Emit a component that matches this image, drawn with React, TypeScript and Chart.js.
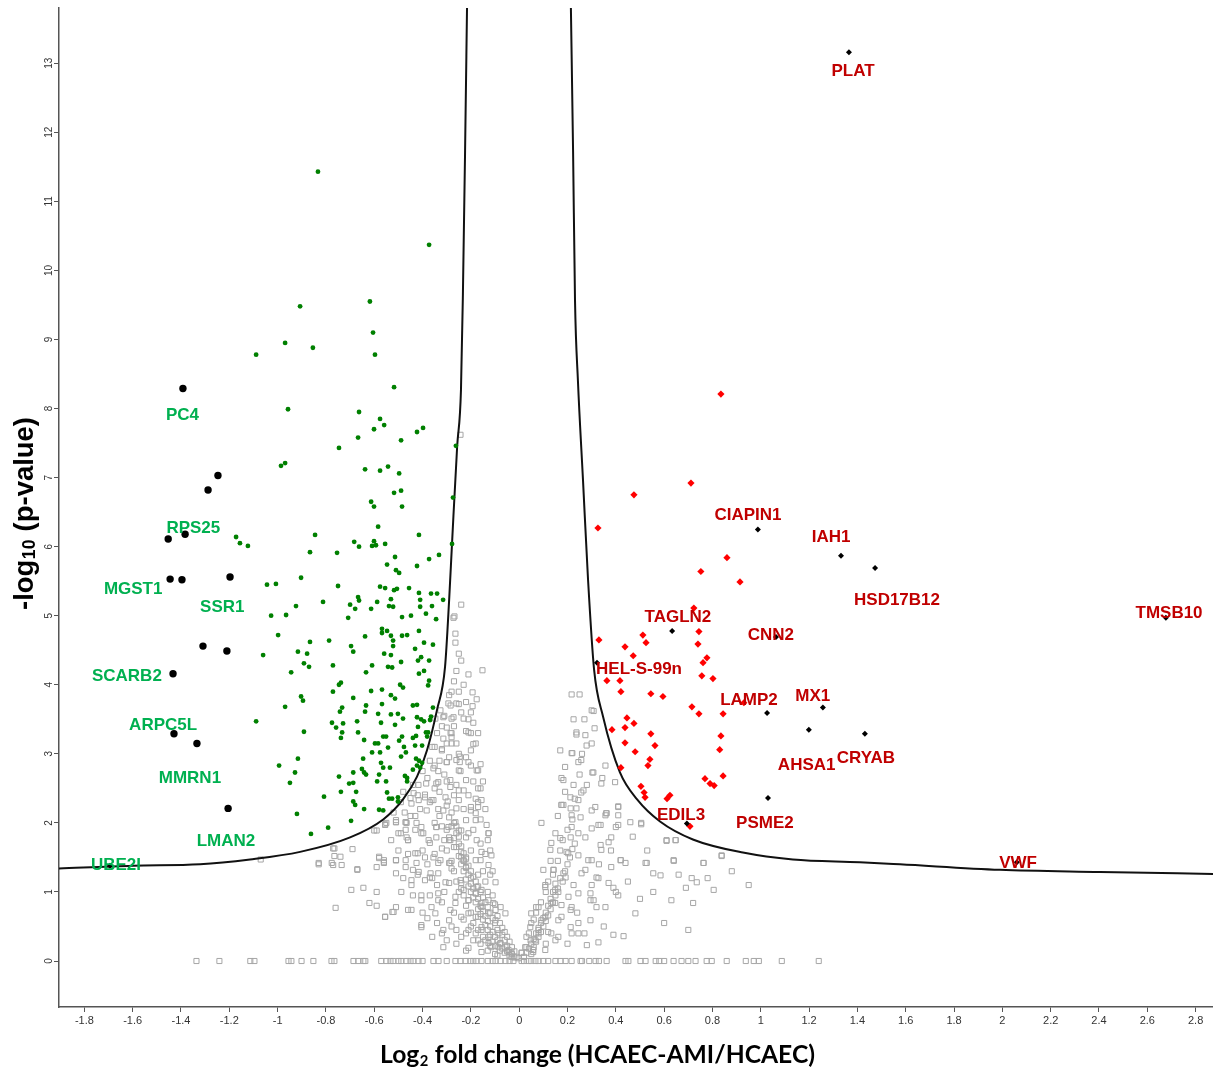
import React, { useEffect, useRef } from "react";
import { Chart, registerables } from "chart.js";
Chart.register(...registerables);

type P = [number, number];

const xTickLabels = ["-1.8","-1.6","-1.4","-1.2","-1","-0.8","-0.6","-0.4","-0.2","0","0.2","0.4","0.6","0.8","1","1.2","1.4","1.6","1.8","2","2.2","2.4","2.6","2.8"];
const yTickLabels = ["0","1","2","3","4","5","6","7","8","9","10","11","12","13"];

const greyZeroRowX = [-1.336,-1.241,-1.113,-1.096,-0.955,-0.943,-0.901,-0.852,-0.777,-0.765,-0.686,-0.666,-0.645,-0.637,-0.571,-0.55,-0.533,-0.521,-0.5,-0.488,-0.467,-0.45,-0.438,-0.417,-0.4,-0.355,-0.334,-0.3,-0.264,-0.243,-0.222,-0.202,-0.19,-0.177,-0.156,-0.13,-0.11,-0.098,-0.077,-0.057,-0.04,-0.024,0.01,0.02,0.039,0.05,0.067,0.08,0.1,0.12,0.15,0.171,0.192,0.217,0.254,0.26,0.29,0.316,0.33,0.362,0.44,0.452,0.502,0.523,0.565,0.58,0.6,0.639,0.672,0.7,0.73,0.776,0.797,0.859,0.938,0.971,0.992,1.087,1.24];

const greyPoints: P[] = [
[-1.07,1.47],[-0.83,1.40],[-0.77,1.39],[-0.74,1.51],[-0.765,1.63],[-0.69,1.62],[-0.765,1.52],[-0.67,1.32],[-0.59,1.36],[-0.58,1.51],[-0.56,1.46],[-0.56,1.42],[-0.51,1.46],[-0.51,1.27],[-0.60,1.89],[-0.555,1.98],[-0.51,2.01],[-0.695,1.03],[-0.645,1.06],[-0.59,1.0],[-0.62,0.84],[-0.59,0.80],[-0.76,0.77],[-0.555,0.64],[-0.525,0.71],[-0.51,0.78],
[-0.49,2.30],[-0.446,2.28],[-0.37,2.30],[-0.47,2.01],[-0.425,2.0],[-0.343,1.94],[-0.397,1.85],[-0.49,1.85],[-0.46,1.75],[-0.29,1.79],[-0.25,1.89],[-0.22,2.04],[-0.18,2.14],[-0.20,2.23],[-0.17,2.30],[-0.37,1.71],[-0.32,1.63],[-0.27,1.65],[-0.42,1.56],[-0.47,1.46],[-0.355,1.50],[-0.24,1.50],[-0.29,1.42],[-0.44,1.32],[-0.335,1.27],[-0.22,1.36],[-0.18,1.46],[-0.39,1.17],[-0.446,1.10],[-0.29,1.13],[-0.243,1.17],[-0.20,1.20],[-0.156,1.03],[-0.23,1.03],[-0.18,0.98],[-0.335,0.98],[-0.405,0.88],[-0.46,0.74],[-0.363,0.78],[-0.264,0.84],[-0.21,0.88],[-0.156,0.78],[-0.127,0.88],[-0.098,0.74],[-0.17,0.64],[-0.21,0.69],[-0.29,0.59],[-0.405,0.52],[-0.32,0.40],[-0.22,0.40],[-0.156,0.45],[-0.127,0.35],[-0.086,0.40],[-0.077,0.26],[-0.057,0.20],[-0.044,0.16],[-0.115,0.20],[-0.156,0.13],[-0.032,0.12],[-0.011,0.06],
[0.175,2.26],[0.217,2.11],[0.254,2.08],[0.357,2.11],[0.245,1.85],[0.328,1.97],[0.41,1.97],[0.505,2.0],[0.129,1.61],[0.203,1.56],[0.286,1.46],[0.34,1.61],[0.381,1.79],[0.44,1.42],[0.42,1.46],[0.523,1.42],[0.639,1.46],[0.763,1.42],[0.61,1.75],[0.647,1.75],[0.838,1.53],[0.142,1.32],[0.192,1.21],[0.274,1.32],[0.328,1.20],[0.381,1.36],[0.555,1.27],[0.585,1.24],[0.714,1.20],[0.735,1.14],[0.108,1.10],[0.149,1.03],[0.225,1.10],[0.295,0.98],[0.39,1.06],[0.41,0.95],[0.555,1.0],[0.69,1.06],[0.805,1.03],[0.63,0.88],[0.72,0.84],[0.07,0.78],[0.149,0.84],[0.217,0.78],[0.308,0.88],[0.357,0.78],[0.481,0.69],[0.092,0.59],[0.175,0.64],[0.245,0.55],[0.295,0.59],[0.39,0.38],[0.432,0.36],[0.28,0.23],[0.328,0.27],[0.047,0.30],[0.08,0.40],[0.12,0.42],[0.162,0.35],[0.217,0.40],[0.03,0.20],[0.058,0.13],[0.108,0.16],[0.01,0.12],
[-0.326,3.63],[-0.293,3.73],[-0.26,3.73],[-0.272,3.53],[-0.23,3.51],[-0.21,3.31],[-0.28,3.30],[-0.314,3.22],[-0.26,3.15],[-0.18,3.15],[-0.32,3.05],[-0.20,3.05],[-0.30,2.88],[-0.26,2.91],[-0.176,2.76],[-0.355,2.79],[-0.25,2.76],[-0.22,2.62],[-0.285,2.62],[-0.335,2.59],[-0.16,2.50],[-0.23,2.47],[-0.417,2.55],[-0.45,2.36],[-0.39,2.37],[-0.355,2.33],[-0.305,2.37],[-0.25,2.33],[-0.20,2.18],[-0.314,2.18],[-0.17,2.23],[-0.466,2.0],[-0.55,2.0],[-0.51,2.01],[-0.405,1.94],[-0.343,1.94],[-0.264,2.01],[-0.18,2.04],[-0.135,1.97],[-0.127,1.85],[-0.22,1.79],[-0.29,1.75],[-0.375,1.75],[-0.46,1.75],[-0.115,1.53],[-0.16,1.46],[-0.22,1.50],[-0.51,1.46],[-0.425,1.42],[-0.326,1.46],[-0.28,1.34],[-0.127,1.39],[-0.56,1.43],[-0.446,1.17],[-0.37,1.21],[-0.305,1.14],[-0.24,1.13],[-0.176,1.07],[-0.098,1.14],[-0.488,1.0],[-0.405,0.95],[-0.335,0.88],[-0.264,0.93],[-0.21,0.88],[-0.156,0.84],[-0.107,0.84],[-0.077,0.78],[-0.555,0.64],[-0.52,0.71],[-0.446,0.74],[-0.347,0.69],[-0.285,0.74],[-0.24,0.64],[-0.18,0.64],[-0.127,0.69],[-0.405,0.49],[-0.314,0.45],[-0.26,0.45],[-0.21,0.45],[-0.156,0.49],[-0.098,0.59],[-0.057,0.69],[-0.314,0.20],[-0.21,0.19],[-0.17,0.30],[-0.127,0.26],[-0.086,0.20],[-0.044,0.13],[-0.032,0.06],[-0.003,0.04],
[0.17,3.05],[0.217,3.01],[0.274,3.27],[0.30,3.15],[0.237,3.31],[0.30,3.63],[0.245,2.88],[0.357,2.83],[0.307,2.73],[0.183,2.62],[0.266,2.47],[0.245,2.33],[0.34,2.57],[0.175,2.26],[0.213,2.21],[0.30,2.18],[0.362,2.14],[0.41,2.23],[0.41,2.11],[0.092,2.0],[0.217,1.94],[0.30,1.92],[0.337,1.97],[0.40,1.94],[0.17,1.78],[0.213,1.79],[0.274,1.79],[0.337,1.68],[0.37,1.72],[0.133,1.71],[0.196,1.58],[0.245,1.53],[0.30,1.46],[0.42,1.46],[0.10,1.32],[0.142,1.32],[0.183,1.27],[0.258,1.27],[0.32,1.21],[0.37,1.13],[0.40,1.0],[0.108,1.07],[0.162,1.0],[0.204,0.93],[0.245,0.98],[0.295,0.88],[0.32,0.78],[0.08,0.78],[0.133,0.84],[0.175,0.81],[0.213,0.74],[0.05,0.69],[0.108,0.64],[0.162,0.59],[0.213,0.49],[0.245,0.40],[0.046,0.49],[0.08,0.45],[0.133,0.40],[0.03,0.35],[0.067,0.30],[0.025,0.20],[0.058,0.16],[0.01,0.12],
[0.217,3.86],[0.25,3.86],[0.308,3.62],[0.225,3.50],[0.312,3.37],[0.237,3.28],[0.279,3.12],[0.22,3.01],[0.257,2.91],[0.19,2.81],[0.303,2.73],[0.344,2.65],[0.397,2.59],[0.175,2.65],[0.225,2.55],[0.257,2.44],[0.212,2.37],[0.183,2.26],[0.237,2.21],[0.315,2.23],[0.36,2.14],[0.41,2.24],[0.46,2.01],[0.505,1.98],[0.61,1.74],[0.648,1.75],[0.838,1.52],[0.528,1.42],[0.64,1.45],[0.763,1.42],
[-0.243,7.62],[-0.272,4.97],[-0.24,5.16],[-0.268,4.99],[-0.264,4.74],[-0.264,4.61],[-0.25,4.45],[-0.24,4.35],[-0.152,4.21],[-0.28,3.90],[-0.193,3.89],[-0.176,3.79],[-0.284,3.70],[-0.25,3.72],[-0.193,3.69],[-0.347,3.51],[-0.314,3.53],[-0.28,3.51],[-0.30,3.38],[-0.284,3.30],[-0.22,3.33],[-0.20,3.30],[-0.28,3.24],[-0.19,3.14],[-0.35,3.10],[-0.32,3.07],[-0.246,2.96],[-0.30,2.88],[-0.246,2.88],[-0.21,2.88],[-0.20,2.83],[-0.17,2.76],[-0.35,2.83],[-0.335,2.75],[-0.243,2.75],[-0.385,2.57],[-0.343,2.57],[-0.30,2.60],[-0.285,2.52],[-0.25,2.47],[-0.17,2.50],[-0.156,2.33],[-0.437,2.43],[-0.39,2.41],[-0.363,2.33],[-0.296,2.31],[-0.26,2.21],[-0.416,2.33],[-0.383,2.18],[-0.335,2.20],[-0.474,2.15],[-0.43,2.10],[-0.47,2.01],[-0.293,1.94],[-0.24,1.89],[-0.21,1.85],[-0.59,1.89],[-0.555,1.97],[-0.51,2.04],[-0.50,1.85],[-0.466,1.79],[-0.405,1.85],[-0.343,1.79],[-0.285,1.75],[-0.176,1.75],[-0.127,1.85],[-0.156,1.58],[-0.23,1.46],[-0.285,1.42],[-0.335,1.42],[-0.39,1.50],[-0.43,1.56],[-0.47,1.36],[-0.51,1.46],[-0.58,1.49],[-0.67,1.33],[-0.735,1.39],[-0.776,1.42],[-0.83,1.42],[-0.77,1.63],[-0.367,1.27],[-0.416,1.29],
[-0.02,0.05],[-0.03,0.10],[-0.04,0.08],[-0.05,0.14],[-0.06,0.12],[-0.05,0.22],[-0.07,0.18],[-0.08,0.15],[-0.08,0.25],[-0.09,0.30],[-0.10,0.22],[-0.10,0.35],[-0.11,0.28],[-0.11,0.42],[-0.12,0.38],[-0.12,0.50],[-0.13,0.45],[-0.13,0.58],[-0.14,0.52],[-0.14,0.65],[-0.15,0.60],[-0.15,0.72],[-0.16,0.68],[-0.16,0.80],[-0.17,0.75],[-0.17,0.90],[-0.18,0.85],[-0.18,0.98],[-0.19,0.92],[-0.19,1.05],[-0.20,1.0],[-0.20,1.12],[-0.21,1.08],[-0.21,1.25],[-0.22,1.18],[-0.22,1.35],[-0.23,1.30],[-0.23,1.45],[-0.24,1.40],[-0.24,1.58],[-0.25,1.52],[-0.25,1.70],[-0.26,1.65],[-0.26,1.85],[-0.27,1.78],[-0.27,2.0],[-0.28,1.95],[-0.28,2.15],[-0.29,2.08],[-0.3,2.25],
[-0.06,0.30],[-0.07,0.38],[-0.09,0.45],[-0.10,0.55],[-0.11,0.62],[-0.12,0.70],[-0.13,0.78],[-0.14,0.85],[-0.15,0.92],[-0.16,1.0],[-0.17,1.08],[-0.18,1.15],[-0.19,1.22],[-0.2,1.3],[-0.21,1.38],[-0.22,1.48],[-0.23,1.56],[-0.24,1.66],[-0.25,1.8],[-0.26,1.95],
[-0.15,0.35],[-0.17,0.45],[-0.19,0.55],[-0.2,0.7],[-0.22,0.8],[-0.23,0.95],[-0.24,1.05],[-0.26,1.15],[-0.27,1.3],[-0.28,1.45],[-0.3,1.6],[-0.31,1.75],[-0.32,1.95],[-0.33,2.1],
[0.02,0.06],[0.03,0.12],[0.04,0.18],[0.05,0.10],[0.05,0.25],[0.06,0.20],[0.06,0.32],[0.07,0.28],[0.07,0.40],[0.08,0.35],[0.08,0.48],[0.09,0.42],[0.09,0.55],[0.10,0.50],[0.10,0.62],[0.11,0.58],[0.11,0.70],[0.12,0.66],[0.12,0.80],[0.13,0.75],[0.13,0.90],[0.14,0.85],[0.14,1.0],[0.15,0.95],[0.15,1.12],[0.16,1.05],[0.17,1.2],[0.18,1.15],[0.19,1.3],[0.2,1.4],[0.21,1.5],[0.22,1.62],[0.23,1.7],
[-0.45,2.1],[-0.43,1.9],[-0.41,2.2],[-0.40,1.6],[-0.38,1.4],[-0.36,1.2],[-0.35,2.0],[-0.34,1.1],[-0.33,2.45],[-0.31,2.7],[-0.31,1.0],[-0.30,1.9],[-0.29,2.95],[-0.28,3.15],[-0.27,2.4],[-0.27,3.4],[-0.26,2.55],[-0.25,3.0],[-0.24,3.6],[-0.23,2.2],[-0.22,2.95],[-0.21,2.4],[-0.21,3.5],[-0.20,1.6],[-0.19,2.6],[-0.19,1.9],[-0.18,2.35],[-0.17,1.25],[-0.16,2.05],[-0.16,1.7],[-0.15,1.3],[-0.14,1.55],[-0.14,1.15],[-0.13,1.0],[-0.12,1.25],[-0.11,0.95],[-0.10,0.82],[-0.09,0.65],[-0.08,0.55],[-0.07,0.48],[-0.06,0.42],[-0.05,0.35],[-0.04,0.28],[-0.03,0.20],[-0.02,0.14],
[-0.48,1.2],[-0.46,1.55],[-0.44,0.95],[-0.42,1.25],[-0.40,0.7],[-0.38,0.62],[-0.37,0.95],[-0.36,0.35],[-0.35,1.55],[-0.34,0.55],[-0.32,0.85],[-0.30,0.3],[-0.28,0.5],[-0.27,0.7],[-0.26,0.25],[-0.25,1.0],[-0.24,0.35],[-0.23,0.6],[-0.22,0.15],[-0.20,0.5],[-0.19,0.3],[-0.18,0.4],[-0.16,0.25],[-0.14,0.3],[-0.13,0.15],[-0.12,0.22],[-0.10,0.1],[-0.09,0.08],
[-0.53,1.75],[-0.52,2.15],[-0.50,1.6],[-0.48,2.45],[-0.47,1.9],[-0.44,2.55],[-0.42,2.4],[-0.40,2.75],[-0.38,2.65],[-0.37,2.9],[-0.36,3.1],[-0.35,2.5],[-0.34,3.3],[-0.33,2.9],[-0.32,3.4],[-0.31,3.55],[-0.30,3.15],[-0.29,3.85],[-0.27,4.05],[-0.26,4.2],[-0.25,3.9],[-0.23,4.0],[-0.22,3.75],[-0.21,4.15],[-0.20,3.6],[-0.19,3.45],[-0.17,3.3],[-0.16,2.85],[-0.15,2.6],[-0.14,2.2],[-0.13,1.75],[-0.12,1.6],[-0.11,1.3],
[0.05,0.55],[0.07,0.7],[0.09,0.85],[0.11,1.0],[0.12,1.15],[0.14,1.25],[0.16,1.45],[0.17,1.6],[0.18,1.75],[0.20,1.9],[0.22,2.05],[0.23,2.35],[0.25,2.7],[0.26,3.0],[0.27,3.5],[0.28,2.55],[0.19,2.45],[0.16,2.1],[0.15,1.85],[0.13,1.45],[0.2,0.25],[0.24,0.7],[0.27,0.4],[0.3,1.1],[0.33,1.4],[0.35,0.5],[0.38,1.6],[0.45,1.15],[0.5,0.9],[0.53,1.6],[0.47,1.8],[0.6,0.55],[0.66,1.25],[0.7,0.45],[0.78,1.2],[0.88,1.3],[0.95,1.1],[0.11,0.25],[0.15,0.3],[0.04,0.4],[0.06,0.6]
];

const greenPoints: P[] = [
[-0.833,11.43],[-0.373,10.37],[-0.618,9.55],[-0.907,9.48],[-0.605,9.10],[-0.969,8.95],[-0.854,8.88],[-1.089,8.78],[-0.597,8.78],[-0.518,8.31],[-0.957,7.99],[-0.663,7.95],[-0.576,7.85],[-0.559,7.76],[-0.601,7.70],[-0.423,7.66],[-0.398,7.72],[-0.667,7.58],[-0.489,7.54],[-0.746,7.43],[-0.262,7.46],[-0.986,7.17],[-0.969,7.21],[-0.638,7.12],[-0.576,7.10],[-0.543,7.16],[-0.497,7.06],[-0.518,6.78],[-0.489,6.81],[-0.274,6.71],[-0.613,6.65],[-0.601,6.58],[-0.485,6.58],[-0.584,6.29],[-0.845,6.17],[-0.415,6.17],[-1.172,6.14],[-1.156,6.05],[-1.123,6.01],[-0.683,6.07],[-0.663,6.00],[-0.601,6.08],[-0.609,6.01],[-0.593,6.02],[-0.555,6.04],[-0.278,6.04],[-0.866,5.92],[-0.754,5.91],[-0.514,5.85],[-0.547,5.74],[-0.423,5.72],[-0.373,5.82],[-0.332,5.88],[-0.510,5.66],[-0.497,5.62],[-0.903,5.55],[-1.044,5.45],[-1.007,5.46],[-0.750,5.43],[-0.576,5.42],[-0.555,5.40],[-0.518,5.37],[-0.506,5.39],[-0.456,5.40],[-0.415,5.33],[-0.365,5.32],[-0.340,5.32],[-0.315,5.23],[-0.410,5.23],[-0.667,5.27],[-0.663,5.22],[-0.531,5.24],[-0.812,5.20],[-0.924,5.14],[-0.700,5.16],[-0.679,5.10],[-0.613,5.10],[-0.588,5.20],[-0.539,5.14],[-0.522,5.13],[-0.410,5.13],[-0.361,5.14],[-0.386,5.03],[-0.344,4.95],[-0.448,5.00],[-0.485,4.98],[-0.708,4.97],[-1.027,5.00],[-0.965,5.01],[-0.998,4.72],[-0.866,4.62],[-0.787,4.64],[-0.696,4.56],[-0.638,4.70],[-0.568,4.81],[-0.568,4.75],[-0.547,4.78],[-0.531,4.71],[-0.485,4.71],[-0.464,4.72],[-0.415,4.78],[-0.522,4.64],[-0.522,4.56],[-0.394,4.61],[-0.357,4.58],[-0.431,4.52],
[-1.060,4.43],[-0.916,4.48],[-0.878,4.45],[-0.687,4.48],[-0.559,4.45],[-0.531,4.43],[-0.489,4.33],[-0.419,4.35],[-0.406,4.40],[-0.373,4.35],[-0.394,4.20],[-0.415,4.16],[-0.891,4.31],[-0.870,4.26],[-0.771,4.28],[-0.944,4.18],[-0.634,4.18],[-0.609,4.28],[-0.543,4.26],[-0.526,4.25],[-0.373,4.06],[-0.377,3.99],[-0.738,4.03],[-0.746,4.00],[-0.493,4.00],[-0.568,3.93],[-0.481,3.96],[-0.613,3.91],[-0.531,3.85],[-0.514,3.80],[-0.771,3.90],[-0.687,3.81],[-0.903,3.83],[-0.895,3.77],[-0.969,3.68],[-0.733,3.67],[-0.742,3.61],[-0.634,3.70],[-0.638,3.61],[-0.568,3.72],[-0.440,3.70],[-0.423,3.71],[-0.357,3.67],[-0.584,3.58],[-0.531,3.57],[-0.502,3.58],[-0.481,3.51],[-0.423,3.53],[-0.406,3.50],[-0.394,3.47],[-0.365,3.54],[-0.369,3.49],[-1.089,3.47],[-0.775,3.45],[-0.729,3.44],[-0.671,3.47],[-0.572,3.45],[-0.514,3.42],[-0.758,3.38],[-0.419,3.39],[-0.386,3.31],[-0.381,3.25],[-0.891,3.32],[-0.733,3.31],[-0.738,3.23],[-0.667,3.31],[-0.642,3.20],[-0.563,3.25],[-0.551,3.25],[-0.485,3.25],[-0.497,3.19],[-0.440,3.23],[-0.427,3.26],[-0.597,3.15],[-0.584,3.15],[-0.543,3.09],[-0.477,3.10],[-0.431,3.12],[-0.402,3.12],[-0.609,3.02],[-0.576,3.02],[-0.469,3.02],[-0.489,2.96],[-0.916,2.93],[-0.646,2.93],[-0.427,2.93],[-0.415,2.90],[-0.402,2.87],[-0.994,2.83],[-0.651,2.78],[-0.642,2.73],[-0.572,2.87],[-0.563,2.80],[-0.535,2.80],[-0.440,2.77],[-0.423,2.83],[-0.410,2.80],[-0.928,2.73],[-0.687,2.73],[-0.634,2.70],[-0.580,2.70],[-0.473,2.68],[-0.464,2.65],[-0.746,2.67],[-0.949,2.58],[-0.704,2.57],[-0.687,2.58],[-0.675,2.45],[-0.738,2.45],[-0.588,2.60],[-0.551,2.60],[-0.547,2.44],[-0.464,2.60],[-0.808,2.38],[-0.539,2.35],[-0.526,2.35],[-0.502,2.37],[-0.502,2.31],[-0.687,2.31],[-0.679,2.26],[-0.642,2.20],[-0.580,2.19],[-0.563,2.18],[-0.920,2.13],[-0.696,2.03],[-0.791,1.93],[-0.862,1.84],[-0.377,3.31]
];

const redPoints: P[] = [
[0.835,8.21],[0.711,6.92],[0.475,6.75],[0.326,6.27],[0.860,5.84],[0.752,5.64],[0.914,5.49],[0.723,5.11],[0.744,4.77],[0.512,4.72],[0.525,4.61],[0.330,4.65],[0.438,4.55],[0.740,4.59],[0.472,4.42],[0.777,4.39],[0.761,4.32],[0.756,4.13],[0.802,4.09],[0.363,4.06],[0.417,4.06],[0.421,3.90],[0.545,3.87],[0.595,3.83],[0.715,3.68],[0.744,3.58],[0.844,3.58],[0.930,3.74],[0.446,3.52],[0.475,3.44],[0.384,3.35],[0.438,3.38],[0.835,3.26],[0.545,3.29],[0.438,3.16],[0.562,3.12],[0.480,3.03],[0.830,3.06],[0.541,2.92],[0.533,2.83],[0.421,2.80],[0.844,2.68],[0.769,2.64],[0.790,2.57],[0.807,2.54],[0.504,2.53],[0.517,2.44],[0.521,2.37],[0.624,2.40],[0.612,2.35],[0.707,1.95]
];

const blackCircles: P[] = [
[-1.392,8.29],[-1.247,7.03],[-1.288,6.82],[-1.453,6.11],[-1.383,6.18],[-1.445,5.53],[-1.396,5.52],[-1.197,5.56],[-1.309,4.56],[-1.210,4.49],[-1.433,4.16],[-1.429,3.29],[-1.334,3.15],[-1.205,2.21]
];

const blackDiamonds: P[] = [
[-1.694,1.38],[1.365,13.16],[0.988,6.25],[1.332,5.87],[1.473,5.69],[2.677,4.97],[0.633,4.78],[1.063,4.69],[0.322,4.32],[1.026,3.59],[1.257,3.67],[1.199,3.35],[1.431,3.29],[1.030,2.36],[0.694,1.99],[2.060,1.43]
];

const curveLeft: P[] = [
[-1.909,1.34],[-1.598,1.38],[-1.321,1.40],[-1.114,1.47],[-0.907,1.58],[-0.700,1.79],[-0.563,2.05],[-0.481,2.34],[-0.423,2.67],[-0.381,3.06],[-0.340,3.64],[-0.307,4.26],[-0.290,5.23],[-0.278,6.05],[-0.257,7.44],[-0.241,8.27],[-0.233,9.66],[-0.224,11.74],[-0.216,13.80]
];

const curveRight: P[] = [
[0.214,13.80],[0.223,11.74],[0.231,9.57],[0.243,8.41],[0.264,6.97],[0.285,5.52],[0.310,4.22],[0.347,3.54],[0.417,2.73],[0.488,2.34],[0.583,2.02],[0.719,1.76],[0.926,1.57],[1.133,1.47],[1.410,1.43],[1.576,1.40],[1.990,1.32],[2.404,1.29],[2.872,1.26]
];

const downLabels: [string, number, number][] = [
["PC4",-1.394,7.90],["RPS25",-1.349,6.26],["MGST1",-1.598,5.38],["SSR1",-1.229,5.12],["SCARB2",-1.624,4.12],["ARPC5L",-1.474,3.42],["MMRN1",-1.363,2.64],["LMAN2",-1.214,1.73],["UBE2I",-1.669,1.39]
];

const upLabels: [string, number, number][] = [
["PLAT",1.382,12.89],["CIAPIN1",0.947,6.45],["IAH1",1.291,6.13],["HSD17B12",1.564,5.22],["TMSB10",2.690,5.04],["TAGLN2",0.657,4.97],["CNN2",1.042,4.71],["HEL-S-99n",0.496,4.22],["LAMP2",0.951,3.77],["MX1",1.215,3.83],["AHSA1",1.190,2.84],["CRYAB",1.435,2.93],["EDIL3",0.670,2.11],["PSME2",1.017,2.00],["VWF",2.065,1.42]
];

const toXY = (arr: P[]) => arr.map(([x, y]) => ({ x, y }));

export default function App() {
  const ref = useRef<HTMLCanvasElement | null>(null);
  useEffect(() => {
    if (!ref.current) return;
    const overlay = {
      id: "overlay",
      afterDatasetsDraw(chart: any) {
        const ctx = chart.ctx;
        const xs = chart.scales.x;
        const ys = chart.scales.y;
        ctx.save();
        ctx.font = 'bold 17px "Liberation Sans", Arial, sans-serif';
        ctx.textAlign = "center";
        ctx.textBaseline = "middle";
        ctx.fillStyle = "#00b050";
        for (const [t, x, y] of downLabels) ctx.fillText(t, xs.getPixelForValue(x), ys.getPixelForValue(y));
        ctx.fillStyle = "#c00000";
        for (const [t, x, y] of upLabels) ctx.fillText(t, xs.getPixelForValue(x), ys.getPixelForValue(y));
        ctx.restore();
      },
      afterDraw(chart: any) {
        const ctx = chart.ctx;
        const xs = chart.scales.x;
        const ys = chart.scales.y;
        ctx.save();
        ctx.fillStyle = "#333";
        ctx.font = '11px "Liberation Sans", Arial, sans-serif';
        ctx.textAlign = "center";
        ctx.textBaseline = "middle";
        for (const l of xTickLabels) ctx.fillText(l, xs.getPixelForValue(parseFloat(l)), 1021);
        ctx.font = '10px "Liberation Sans", Arial, sans-serif';
        for (const l of yTickLabels) {
          ctx.save();
          ctx.translate(49, ys.getPixelForValue(parseFloat(l)));
          ctx.rotate(-Math.PI / 2);
          ctx.fillText(l, 0, 0);
          ctx.restore();
        }
        ctx.fillStyle = "#000";
        ctx.textAlign = "left";
        ctx.textBaseline = "alphabetic";
        const big = "bold 25px Lato, sans-serif";
        const small = "bold 15px Lato, sans-serif";
        ctx.font = big;
        const w1 = ctx.measureText("Log").width;
        const w3 = ctx.measureText(" fold change (HCAEC-AMI/HCAEC)").width;
        ctx.font = small;
        const w2 = ctx.measureText("2").width + 1;
        const total = w1 + w2 + w3;
        const sx = 435 / total;
        ctx.save();
        ctx.translate(597.5 - 217.5, 1063);
        ctx.scale(sx, 1);
        ctx.font = big;
        ctx.fillText("Log", 0, 0);
        ctx.font = small;
        ctx.fillText("2", w1 + 0.5, 3);
        ctx.font = big;
        ctx.fillText(" fold change (HCAEC-AMI/HCAEC)", w1 + w2, 0);
        ctx.restore();
        const ybig = 'bold 28px "Liberation Sans", Arial, sans-serif';
        const ysmall = 'bold 18px "Liberation Sans", Arial, sans-serif';
        ctx.font = ybig;
        const a1 = ctx.measureText("-log").width;
        const a3 = ctx.measureText(" (p-value)").width;
        ctx.font = ysmall;
        const a2 = ctx.measureText("10").width + 1;
        const atot = a1 + a2 + a3;
        const sy = 193 / atot;
        ctx.save();
        ctx.translate(33, 513.5);
        ctx.rotate(-Math.PI / 2);
        ctx.scale(sy, 1);
        ctx.translate(-atot / 2, 0);
        ctx.font = ybig;
        ctx.fillText("-log", 0, 0);
        ctx.font = ysmall;
        ctx.fillText("10", a1 + 0.5, 2);
        ctx.font = ybig;
        ctx.fillText(" (p-value)", a1 + a2, 0);
        ctx.restore();
        ctx.restore();
      },
    };

    const greyAll: P[] = [...greyZeroRowX.map((x) => [x, 0] as P), ...greyPoints];

    const chart = new Chart(ref.current, {
      type: "scatter",
      data: {
        datasets: [
          { data: toXY(blackCircles), pointStyle: "circle", pointRadius: 3.7, backgroundColor: "#000", borderWidth: 0, order: 1 } as any,
          { data: toXY(blackDiamonds), pointStyle: "rectRot", pointRadius: 3, backgroundColor: "#000", borderWidth: 0, order: 1 } as any,
          { data: toXY(redPoints), pointStyle: "rectRot", pointRadius: 3.6, backgroundColor: "#ff0000", borderWidth: 0, order: 2 } as any,
          { data: toXY(greenPoints), pointStyle: "circle", pointRadius: 2.4, backgroundColor: "#008000", borderWidth: 0, order: 3 } as any,
          { data: toXY(curveLeft), showLine: true, pointRadius: 0, borderColor: "#111", borderWidth: 2, cubicInterpolationMode: "monotone", order: 4 } as any,
          { data: toXY(curveRight), showLine: true, pointRadius: 0, borderColor: "#111", borderWidth: 2, cubicInterpolationMode: "monotone", order: 4 } as any,
          { data: toXY(greyAll), pointStyle: "rect", pointRadius: 3.6, borderColor: "#a6a6a6", borderWidth: 1, backgroundColor: "rgba(0,0,0,0)", order: 5 } as any,
        ],
      },
      options: {
        animation: false,
        responsive: false,
        devicePixelRatio: 1,
        events: [],
        layout: { padding: { top: 8, right: 0, left: 0, bottom: 0 } },
        plugins: { legend: { display: false }, tooltip: { enabled: false } },
        scales: {
          x: {
            type: "linear",
            min: -1.905,
            max: 2.872,
            afterBuildTicks: (s: any) => { s.ticks = xTickLabels.map((l) => ({ value: parseFloat(l) })); },
            afterFit: (s: any) => { s.height = 67; },
            ticks: { display: false },
            grid: { display: true, drawOnChartArea: false, drawTicks: true, tickLength: 5, color: "#555", lineWidth: 1 },
            border: { display: true, color: "#555", width: 1.5 },
          },
          y: {
            type: "linear",
            min: -0.666,
            max: 13.8,
            afterBuildTicks: (s: any) => { s.ticks = yTickLabels.map((l) => ({ value: parseFloat(l) })); },
            afterFit: (s: any) => { s.width = 59; },
            ticks: { display: false },
            grid: { display: true, drawOnChartArea: false, drawTicks: true, tickLength: 5, color: "#555", lineWidth: 1 },
            border: { display: true, color: "#555", width: 1.5 },
          },
        },
      } as any,
      plugins: [overlay],
    });
    return () => chart.destroy();
  }, []);

  return (
    <div style={{ position: "fixed", left: 0, top: 0, width: 1213, height: 1074, background: "#fff", overflow: "hidden" }}>
      <canvas ref={ref} width={1218} height={1074} style={{ width: 1218, height: 1074, display: "block" }} />
    </div>
  );
}
